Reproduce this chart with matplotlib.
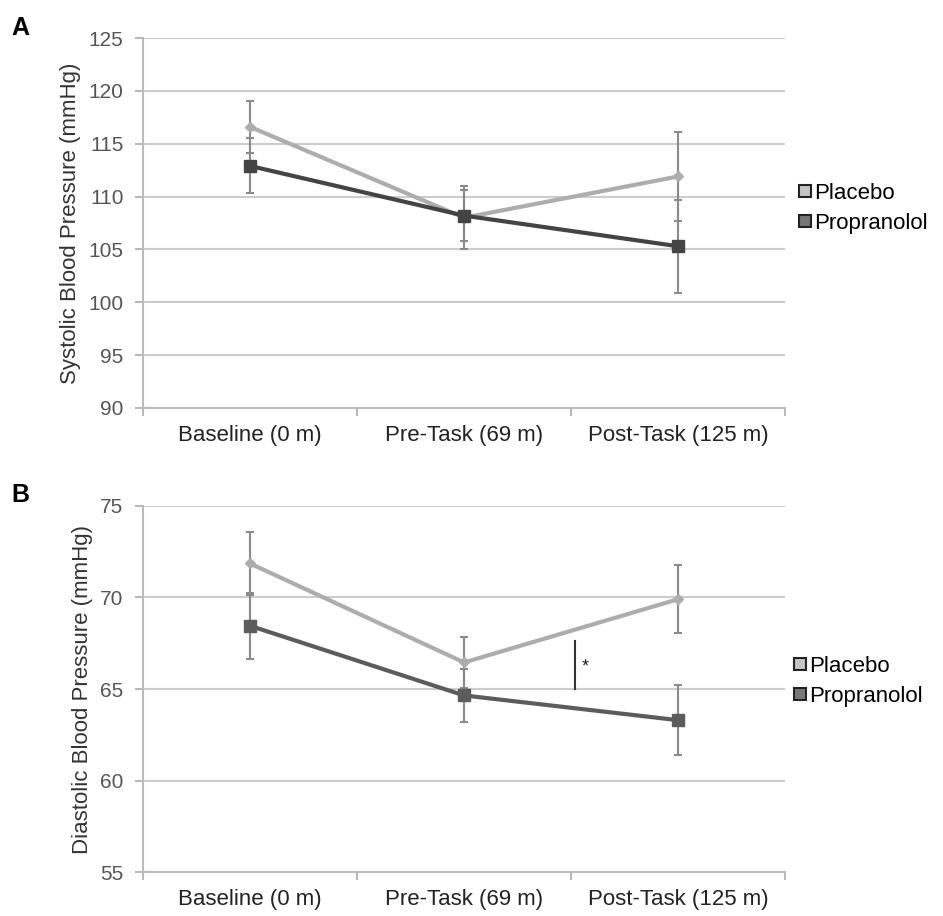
import matplotlib.pyplot as plt
from matplotlib.lines import Line2D

plt.rcParams["font.family"] = ["Liberation Sans", "DejaVu Sans"]

categories = ["Baseline (0 m)", "Pre-Task (69 m)", "Post-Task (125 m)"]

# Panel A: systolic
sys_placebo = [116.6, 108.0, 111.9]
sys_placebo_err = [2.45, 3.0, 4.2]
sys_prop = [112.9, 108.2, 105.3]
sys_prop_err = [2.6, 2.4, 4.4]

# Panel B: diastolic
dia_placebo = [71.85, 66.45, 69.9]
dia_placebo_err = [1.7, 1.4, 1.85]
dia_prop = [68.45, 64.65, 63.3]
dia_prop_err = [1.8, 1.45, 1.9]

LIGHT = "#adadad"
ERR = "#8a8a8a"
GRID = "#cccccc"
TXT = "#555555"


def draw_panel(ax, placebo, placebo_err, prop, prop_err, ylim, ylabel, dark, leg_x, leg_y):
    x = list(range(len(categories)))
    ax.errorbar(x, placebo, yerr=placebo_err, color=LIGHT, lw=3, marker="D",
                ms=5, ecolor=ERR, elinewidth=1.5, capsize=3, capthick=1.5, zorder=3)
    ax.errorbar(x, prop, yerr=prop_err, color=dark, lw=3, marker="s",
                ms=8, ecolor=ERR, elinewidth=1.5, capsize=3, capthick=1.5, zorder=4)
    ax.set_xlim(-0.5, len(categories) - 0.5)
    ax.set_ylim(*ylim)
    ax.set_yticks(range(ylim[0], ylim[1] + 1, 5))
    ax.yaxis.grid(True, color=GRID, lw=1.5)
    ax.set_axisbelow(True)
    ax.set_xticks(x)
    ax.set_xticklabels(categories, fontsize=16, color="#222222")
    ax.set_xticks([i - 0.5 for i in range(len(categories) + 1)], minor=True)
    ax.tick_params(axis="x", which="major", length=0, pad=12)
    ax.tick_params(axis="x", which="minor", length=6, color="#aaaaaa", width=1.2)
    ax.tick_params(axis="y", length=6, color="#aaaaaa", width=1.2, pad=8,
                   labelsize=15, labelcolor=TXT)
    for s in ["top", "right"]:
        ax.spines[s].set_visible(False)
    for s in ["left", "bottom"]:
        ax.spines[s].set_color("#bbbbbb")
        ax.spines[s].set_linewidth(1.5)
    ax.set_ylabel(ylabel, fontsize=16, color="#333333", labelpad=5)
    handles = [
        Line2D([], [], ls="none", marker="s", ms=8, mfc="#c4c4c4", mec="#222222", mew=1.5),
        Line2D([], [], ls="none", marker="s", ms=8, mfc="#777777", mec="#222222", mew=1.5),
    ]
    ax.legend(handles, ["Placebo", "Propranolol"], loc="center left",
              bbox_to_anchor=(leg_x, leg_y), frameon=False, fontsize=16,
              handletextpad=0.0, handlelength=0.8, labelspacing=0.4,
              borderaxespad=0)


fig = plt.figure(figsize=(9.43, 9.16), dpi=100)
ax1 = fig.add_axes([0.1516, 0.5546, 0.681, 0.4039])
ax2 = fig.add_axes([0.1516, 0.0477, 0.681, 0.4002])

draw_panel(ax1, sys_placebo, sys_placebo_err, sys_prop, sys_prop_err,
           (90, 125), "Systolic Blood Pressure (mmHg)", "#444444", 1.004, 0.54)
draw_panel(ax2, dia_placebo, dia_placebo_err, dia_prop, dia_prop_err,
           (55, 75), "Diastolic Blood Pressure (mmHg)", "#5c5c5c", 0.996, 0.52)

# significance marker between groups after the pre-task point
ax2.plot([1.52, 1.52], [65.0, 67.6], color="#333333", lw=1.5)
ax2.text(1.565, 66.2, "*", fontsize=13, ha="center", va="center", color="#222222")

fig.text(0.012, 0.962, "A", fontsize=18, fontweight="bold")
fig.text(0.012, 0.452, "B", fontsize=18, fontweight="bold")

fig.savefig("out.png", dpi=100)
